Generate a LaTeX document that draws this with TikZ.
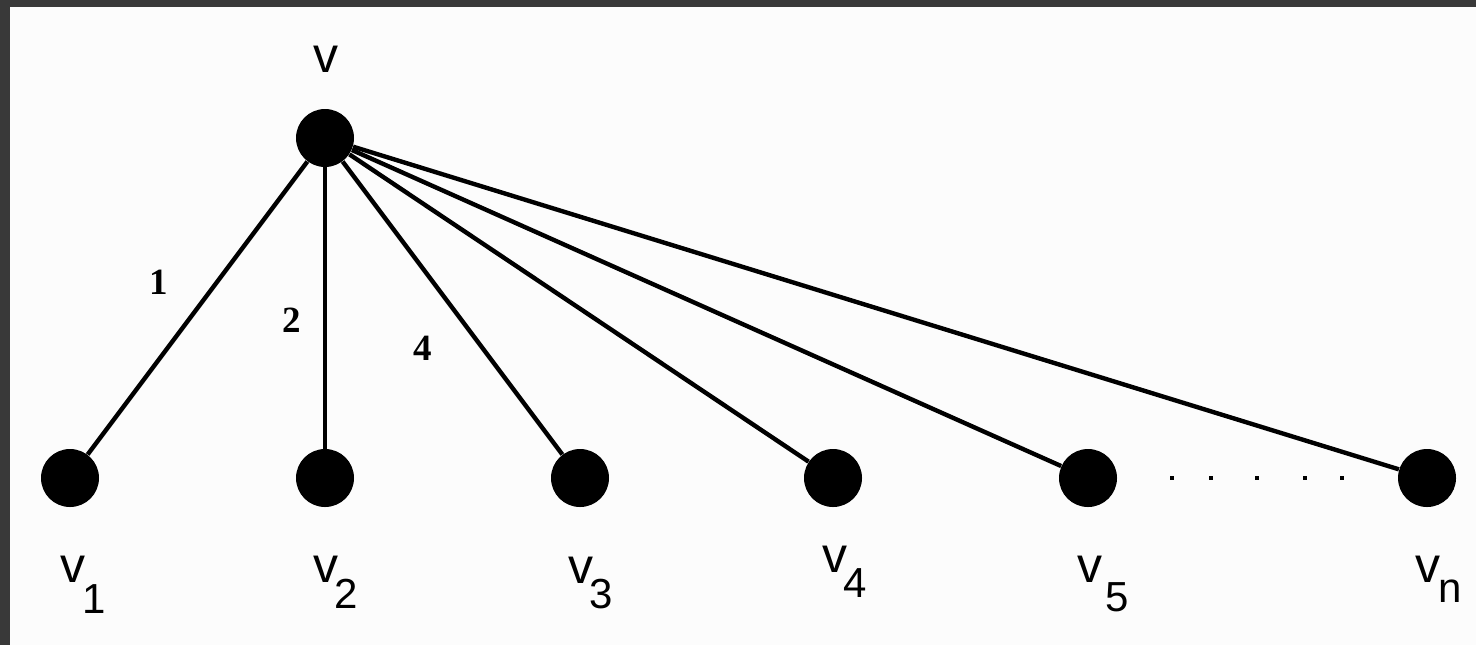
\documentclass[tikz,border=0pt]{standalone}
\usepackage{fontspec}
\setmainfont{Liberation Sans}
\newfontfamily\wtfont{Liberation Serif}
\usetikzlibrary{positioning}
% v with a lowered index: kern, drop, index
\newcommand{\vsub}[3]{v\kern#1\raisebox{-#2}{\fontsize{21}{21}\selectfont #3}}

\begin{document}
\begin{tikzpicture}[x=0.5pt, y=-0.5pt,
  vertex/.style={circle, fill=black, minimum size=29pt, inner sep=0pt},
  edge/.style={line width=2.2pt},
  vlabel/.style={inner sep=0pt, anchor=base west, font=\fontsize{25}{25}\selectfont},
  weight/.style={inner sep=0pt, font=\wtfont\bfseries\fontsize{18.5}{18.5}\selectfont}]
  \useasboundingbox (0,0) rectangle (1476,645);
  \fill[gray!45!black] (0,0) rectangle (1476,645);
  \fill[black!1] (10,7) rectangle (1476,645);

  % vertices
  \node (v) [vertex] at (325,138) {};
  \node (v1) [vertex] at (70,478) {};
  \node (v2) [vertex] at (325,478) {};
  \node (v3) [vertex] at (580,478) {};
  \node (v4) [vertex] at (833,478) {};
  \node (v5) [vertex] at (1088,478) {};
  \node (vn) [vertex] at (1427,478) {};

  % edges
  \foreach \w in {v1,v2,v3,v4,v5,vn}
    \draw[edge] (v) -- (\w);

  % dots between v5 and vn
  \foreach \x in {1172,1211,1257,1305,1342}
    \fill (\x-2,476) rectangle (\x+2,480);

  % edge weights
  \node (w1) [weight] at (159,282) {1};
  \node (w2) [weight] at (292,320) {2};
  \node (w4) [weight] at (423,348) {4};

  % vertex labels
  \node (lv) [vlabel] at (313,72) {v};
  \node (lv1) [vlabel] at (60,582) {\vsub{-1.5pt}{15.5pt}{1}};
  \node (lv2) [vlabel] at (313,582) {\vsub{-2pt}{13pt}{2}};
  \node (lv3) [vlabel] at (568,583) {\vsub{-2pt}{12.5pt}{3}};
  \node (lv4) [vlabel] at (822,572) {\vsub{-2pt}{12.5pt}{4}};
  \node (lv5) [vlabel] at (1077,582) {\vsub{1.5pt}{14.5pt}{5}};
  \node (lvn) [vlabel] at (1415,582) {\vsub{-1pt}{10pt}{n}};
\end{tikzpicture}
\end{document}
